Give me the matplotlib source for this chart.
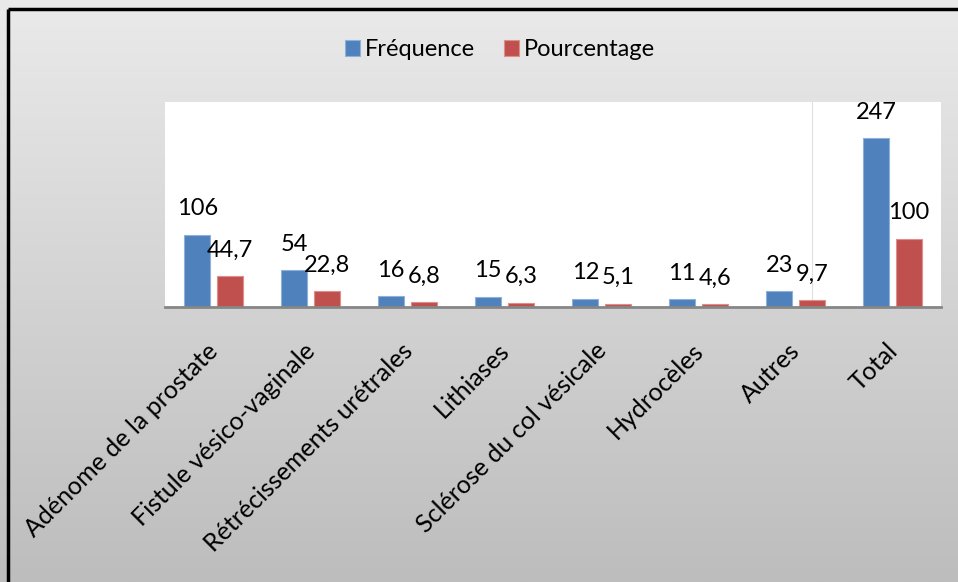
import numpy as np
import matplotlib
matplotlib.use("Agg")
import matplotlib.pyplot as plt
import matplotlib.transforms as mtransforms

plt.rcParams['font.family'] = ['Lato', 'DejaVu Sans']

# data
categories = ['Adénome de la prostate', 'Fistule vésico-vaginale', 'Rétrécissements urétrales',
              'Lithiases', 'Sclérose du col vésicale', 'Hydrocèles', 'Autres', 'Total']
frequence = [106, 54, 16, 15, 12, 11, 23, 247]
pourcentage = [44.7, 22.8, 6.8, 6.3, 5.1, 4.6, 9.7, 100]
pct_labels = ['44,7', '22,8', '6,8', '6,3', '5,1', '4,6', '9,7', '100']

blue = '#4F81BD'
red = '#C0504D'

fig = plt.figure(figsize=(9.58, 5.82), dpi=100)

# gray gradient background for the whole chart area
bg = fig.add_axes([0, 0, 1, 1], zorder=-10)
grad = np.linspace(0, 1, 256).reshape(-1, 1)
bg.imshow(grad, aspect='auto', cmap=matplotlib.colors.LinearSegmentedColormap.from_list('g', ['#eaeaea', '#bdbdbd']),
          extent=[0, 1, 0, 1], origin='upper')
bg.set_xlim(0, 1)
bg.set_ylim(0, 1)
bg.axis('off')
# black frame on top and left (right/bottom cut off)
bg.plot([8 / 958, 1], [1 - 9 / 582, 1 - 9 / 582], color='black', lw=2.5, solid_capstyle='butt')
bg.plot([8 / 958, 8 / 958], [0, 1 - 9 / 582], color='black', lw=2.5, solid_capstyle='butt')

ax = fig.add_axes([165 / 958, 1 - 307 / 582, (941 - 165) / 958, (307 - 102) / 582])
ax.set_facecolor('white')

x = np.arange(len(categories))
w = 0.27
off = 0.168

# faint stray gridline seen in the original
ax.axvline(x[6] + off, color='#e0e0e0', lw=0.8, zorder=0)

b1 = ax.bar(x - off, frequence, w, color=blue, edgecolor='#8fb0d8', linewidth=0.8, label='Fréquence', zorder=2)
b2 = ax.bar(x + off, pourcentage, w, color=red, edgecolor='#dc8f8d', linewidth=0.8, label='Pourcentage', zorder=2)

for xi, v in zip(x, frequence):
    ax.annotate(str(v), (xi - off, v), xytext=(0, 26), textcoords='offset pixels',
                ha='center', va='center', fontsize=17, color='black')
for xi, v, t in zip(x, pourcentage, pct_labels):
    ax.annotate(t, (xi + off, v), xytext=(0, 26), textcoords='offset pixels',
                ha='center', va='center', fontsize=17, color='black')

ax.set_xlim(-0.5, len(categories) - 0.5)
ax.set_ylim(0, 300)
ax.set_yticks([])
ax.set_xticks(x)
ax.set_xticklabels(categories, rotation=45, ha='right', va='top', rotation_mode='anchor', fontsize=18)
ax.tick_params(axis='x', length=0, pad=23)
shift = mtransforms.ScaledTranslation(-7 / 100, 0, fig.dpi_scale_trans)
for lab in ax.get_xticklabels():
    lab.set_transform(lab.get_transform() + shift)
for s in ['top', 'right', 'left']:
    ax.spines[s].set_visible(False)
ax.spines['bottom'].set_color('#868686')
ax.spines['bottom'].set_linewidth(2)

fig.legend(handles=[b1, b2], loc='center', bbox_to_anchor=(500 / 958, 1 - 50 / 582), ncol=2, frameon=False,
           fontsize=17, handlelength=0.65, handleheight=0.65, handletextpad=0.2, columnspacing=1.2)

fig.savefig('out.png', dpi=100)
